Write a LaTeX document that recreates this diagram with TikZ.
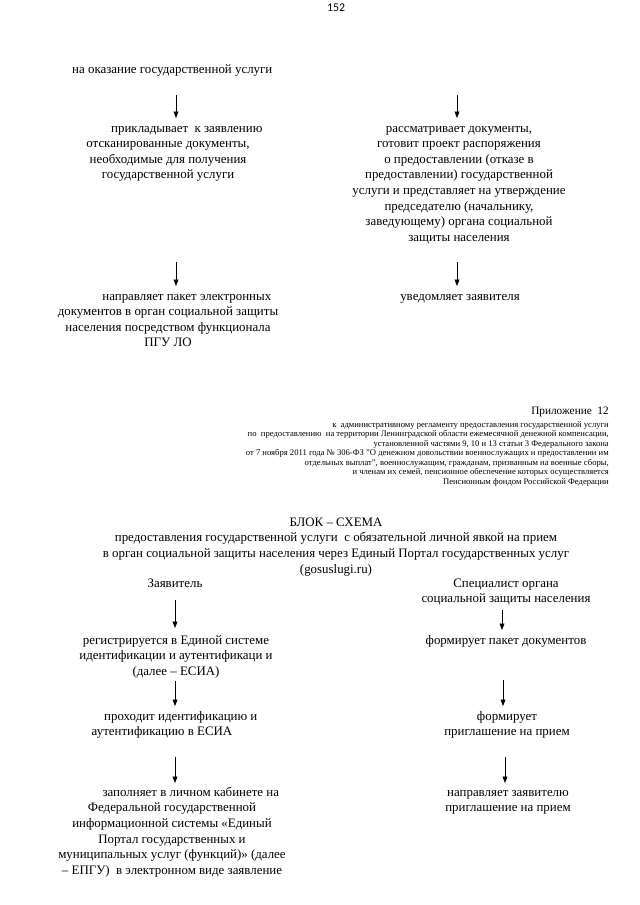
\documentclass[tikz,border=0pt]{standalone}
\usepackage{fontspec}
\setmainfont{Liberation Serif}
\newfontfamily\pgnumfont{Carlito}
\usetikzlibrary{arrows.meta}
\newcommand\fs{\rule{0pt}{10pt}}
\newcommand\ind{\hspace*{35pt}}
\begin{document}
\begin{tikzpicture}[x=0.93pt,y=-0.93pt,
  txt/.style={inner sep=0pt, anchor=north, align=center, font=\fontsize{12}{14.5}\selectfont},
  small/.style={inner sep=0pt, anchor=north east, align=right, font=\fontsize{8}{8.84}\selectfont},
  arr/.style={line width=0.6pt, -{Triangle[length=6pt,width=4.5pt]}}]
\useasboundingbox (0,0) rectangle (640,905);
% page number
\node[inner sep=0pt, anchor=base, font=\pgnumfont\fontsize{11}{13}\selectfont] (pg) at (336,11.5) {152};
% upper part
\node[txt, anchor=base west] (top) at (72,73) {на оказание государственной услуги};
\node[txt] (l1) at (168,121.25) {\fs\ind прикладывает\ \ к заявлению\\отсканированные документы,\\необходимые для получения\\государственной услуги};
\node[txt] (r1) at (459,121.25) {\fs рассматривает документы,\\готовит проект распоряжения\\о предоставлении (отказе в\\предоставлении) государственной\\услуги и представляет на утверждение\\председателю (начальнику,\\заведующему) органа социальной\\защиты населения};
\node[txt] (l2) at (168,289.25) {\fs\ind направляет пакет электронных\\документов в орган социальной защиты\\населения посредством функционала\\ПГУ ЛО};
\node[txt] (r2) at (460,289.25) {\fs уведомляет заявителя};
\coordinate (a1s) at (176,95);  \coordinate (a1e) at (176,118);
\coordinate (a2s) at (457,95);  \coordinate (a2e) at (457,118);
\coordinate (a3s) at (176,262); \coordinate (a3e) at (176,286);
\coordinate (a4s) at (457,262); \coordinate (a4e) at (457,286);
\draw[arr] (a1s) -- (a1e);
\draw[arr] (a2s) -- (a2e);
\draw[arr] (a3s) -- (a3e);
\draw[arr] (a4s) -- (a4e);
% appendix heading
\node[inner sep=0pt, anchor=base east, font=\fontsize{10.5}{13}\selectfont] (app) at (609,414) {Приложение\ \ 12};
\node[small] (appt) at (609,416.25) {\fs к\ \ административному регламенту предоставления государственной услуги\\
по\ \ предоставлению\ \ на территории Ленинградской области ежемесячной денежной компенсации,\\
установленной частями 9, 10 и 13 статьи 3 Федерального закона\\
от 7 ноября 2011 года № 306-ФЗ "О денежном довольствии военнослужащих и предоставлении им\\
отдельных выплат", военнослужащим, гражданам, призванным на военные сборы,\\
и членам их семей, пенсионное обеспечение которых осуществляется\\
Пенсионным фондом Российской Федерации};
% lower part
\node[txt] (title) at (336,515.25) {\fs БЛОК – СХЕМА\\предоставления государственной услуги\ \ с обязательной личной явкой на прием\\в орган социальной защиты населения через Единый Портал государственных услуг\\(gosuslugi.ru)};
\node[txt, anchor=base] (zv) at (175,587) {Заявитель};
\node[txt] (sp) at (506,576.25) {\fs Специалист органа\\социальной защиты населения};
\node[txt] (l3) at (176,633.25) {\fs регистрируется в Единой системе\\идентификации и аутентификаци и\\(далее – ЕСИА)};
\node[txt] (r3) at (506,633.25) {\fs формирует пакет документов};
\node[txt] (l4) at (162,709.25) {\fs\ind проходит идентификацию и\\аутентификацию в ЕСИА};
\node[txt] (r4) at (507,709.25) {\fs формирует\\приглашение на прием};
\node[txt] (l5) at (172,785.25) {\fs\ind заполняет в личном кабинете на\\Федеральной государственной\\информационной системы «Единый\\Портал государственных и\\муниципальных услуг (функций)» (далее\\– ЕПГУ)\ \ в электронном виде заявление};
\node[txt] (r5) at (508,785.25) {\fs направляет заявителю\\приглашение на прием};
\coordinate (b1s) at (175,600); \coordinate (b1e) at (175,628);
\coordinate (b2s) at (502,610); \coordinate (b2e) at (502,630);
\coordinate (b3s) at (175,681); \coordinate (b3e) at (175,706);
\coordinate (b4s) at (503,680); \coordinate (b4e) at (503,706);
\coordinate (b5s) at (175,757); \coordinate (b5e) at (175,783);
\coordinate (b6s) at (505,757); \coordinate (b6e) at (505,783);
\draw[arr] (b1s) -- (b1e);
\draw[arr] (b2s) -- (b2e);
\draw[arr] (b3s) -- (b3e);
\draw[arr] (b4s) -- (b4e);
\draw[arr] (b5s) -- (b5e);
\draw[arr] (b6s) -- (b6e);
\end{tikzpicture}
\end{document}
